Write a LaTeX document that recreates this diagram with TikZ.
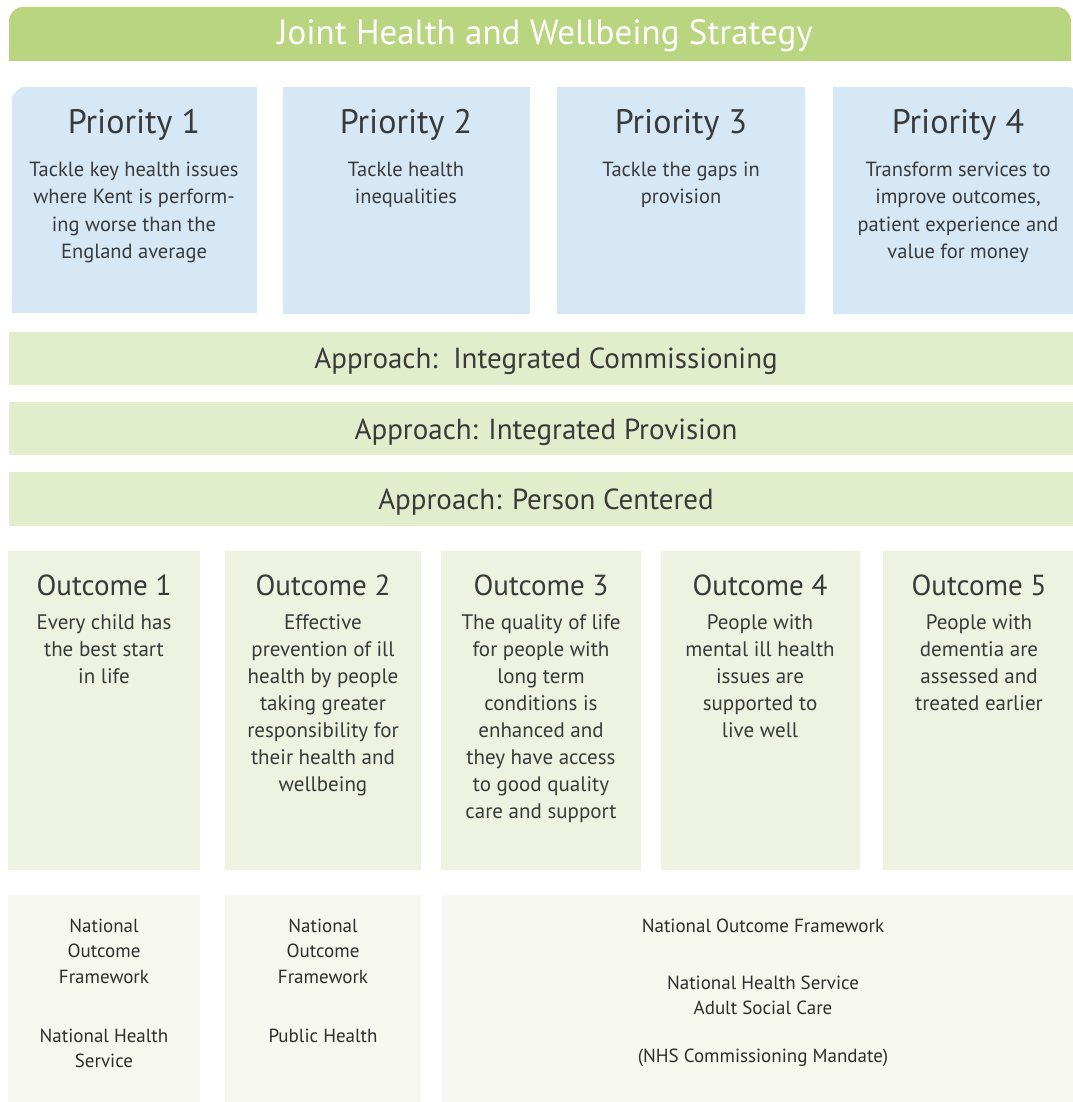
\documentclass[tikz,border=0pt]{standalone}
\usepackage{fontspec}
\setmainfont{PT Sans}
\definecolor{bannergreen}{HTML}{B9D57F}
\definecolor{prioblue}{HTML}{D6E7F6}
\definecolor{approachgreen}{HTML}{E2EDCB}
\definecolor{outcomegreen}{HTML}{EDF2E1}
\definecolor{sourcegreen}{HTML}{F6F8F0}
\definecolor{ink}{HTML}{3A3A3A}
\begin{document}
% multi-line nodes are anchored at the baseline of their last line
\begin{tikzpicture}[x=1pt,y=-1pt,
  txt/.style={inner sep=0pt, anchor=base, align=center, text=ink},
  bannertext/.style={txt, text=white, font=\fontsize{35}{40}\selectfont},
  priohead/.style={txt, font=\fontsize{34}{40}\selectfont},
  priobody/.style={txt, font=\fontsize{20.5}{27.5}\selectfont},
  approachtext/.style={txt, font=\fontsize{29}{34}\selectfont},
  outhead/.style={txt, font=\fontsize{29}{34}\selectfont},
  outbody/.style={txt, font=\fontsize{21}{27}\selectfont},
  srctext/.style={txt, text=ink!80!black, font=\fontsize{19}{25.5}\selectfont},
]
\useasboundingbox (0,0) rectangle (1072,1102);

% banner with rounded top corners
\fill[bannergreen] (9,61) [rounded corners=14pt] -- (9,7) -- (1071,7) [sharp corners] -- (1071,61) -- cycle;
\node[bannertext] (title) at (545,45) {Joint Health and Wellbeing Strategy};

% priorities
\fill[prioblue] (12,313) [rounded corners=14pt] -- (12,87) [sharp corners] -- (257,87) -- (257,313) -- cycle;
\fill[prioblue] (283,87) rectangle (530,314);
\fill[prioblue] (557,87) rectangle (805,314);
\fill[prioblue] (833,314) -- (833,87) [rounded corners=14pt] -- (1081,87) [sharp corners] -- (1081,314) -- cycle;

\node[priohead] (p1h) at (134,134) {Priority 1};
\node[priohead] (p2h) at (406,134) {Priority 2};
\node[priohead] (p3h) at (681,134) {Priority 3};
\node[priohead] (p4h) at (958,134) {Priority 4};

\node[priobody] (p1b) at (134,258.5) {Tackle key health issues\\where Kent is perform-\\ing worse than the\\England average};
\node[priobody] (p2b) at (406,203.5) {Tackle health\\inequalities};
\node[priobody] (p3b) at (681,203.5) {Tackle the gaps in\\provision};
\node[priobody] (p4b) at (958,258.5) {Transform services to\\improve outcomes,\\patient experience and\\value for money};

% approaches
\fill[approachgreen] (9,332) rectangle (1082,385);
\fill[approachgreen] (9,402) rectangle (1082,455);
\fill[approachgreen] (9,472) rectangle (1082,526);
\node[approachtext] (a1) at (546,368) {Approach:\ \ Integrated Commissioning};
\node[approachtext] (a2) at (546,439) {Approach: Integrated Provision};
\node[approachtext] (a3) at (546,509) {Approach: Person Centered};

% outcomes
\fill[outcomegreen] (8,551) rectangle (200,870);
\fill[outcomegreen] (225,551) rectangle (421,870);
\fill[outcomegreen] (441,551) rectangle (641,870);
\fill[outcomegreen] (661,551) rectangle (860,870);
\fill[outcomegreen] (883,551) rectangle (1082,870);

\node[outhead] (o1h) at (104,595) {Outcome 1};
\node[outhead] (o2h) at (323,595) {Outcome 2};
\node[outhead] (o3h) at (541,595) {Outcome 3};
\node[outhead] (o4h) at (760,595) {Outcome 4};
\node[outhead] (o5h) at (979,595) {Outcome 5};

\node[outbody] (o1b) at (104,683) {Every child has\\the best start\\in life};
\node[outbody] (o2b) at (323,791) {Effective\\prevention of ill\\health by people\\taking greater\\responsibility for\\their health and\\wellbeing};
\node[outbody] (o3b) at (541,818) {The quality of life\\for people with\\long term\\conditions is\\enhanced and\\they have access\\to good quality\\care and support};
\node[outbody] (o4b) at (760,737) {People with\\mental ill health\\issues are\\supported to\\live well};
\node[outbody] (o5b) at (979,710) {People with\\dementia are\\assessed and\\treated earlier};

% frameworks
\fill[sourcegreen] (8,895) rectangle (200,1102);
\fill[sourcegreen] (225,895) rectangle (421,1102);
\fill[sourcegreen] (442,895) rectangle (1082,1102);

\node[srctext] (s1a) at (104,983) {National\\Outcome\\Framework};
\node[srctext] (s1b) at (104,1067.5) {National Health\\Service};
\node[srctext] (s2a) at (323,983) {National\\Outcome\\Framework};
\node[srctext] (s2b) at (323,1042) {Public Health};
\node[srctext] (s3a) at (763,932) {National Outcome Framework};
\node[srctext] (s3b) at (763,1014.5) {National Health Service\\Adult Social Care};
\node[srctext] (s3c) at (763,1062) {(NHS Commissioning Mandate)};
\end{tikzpicture}
\end{document}
